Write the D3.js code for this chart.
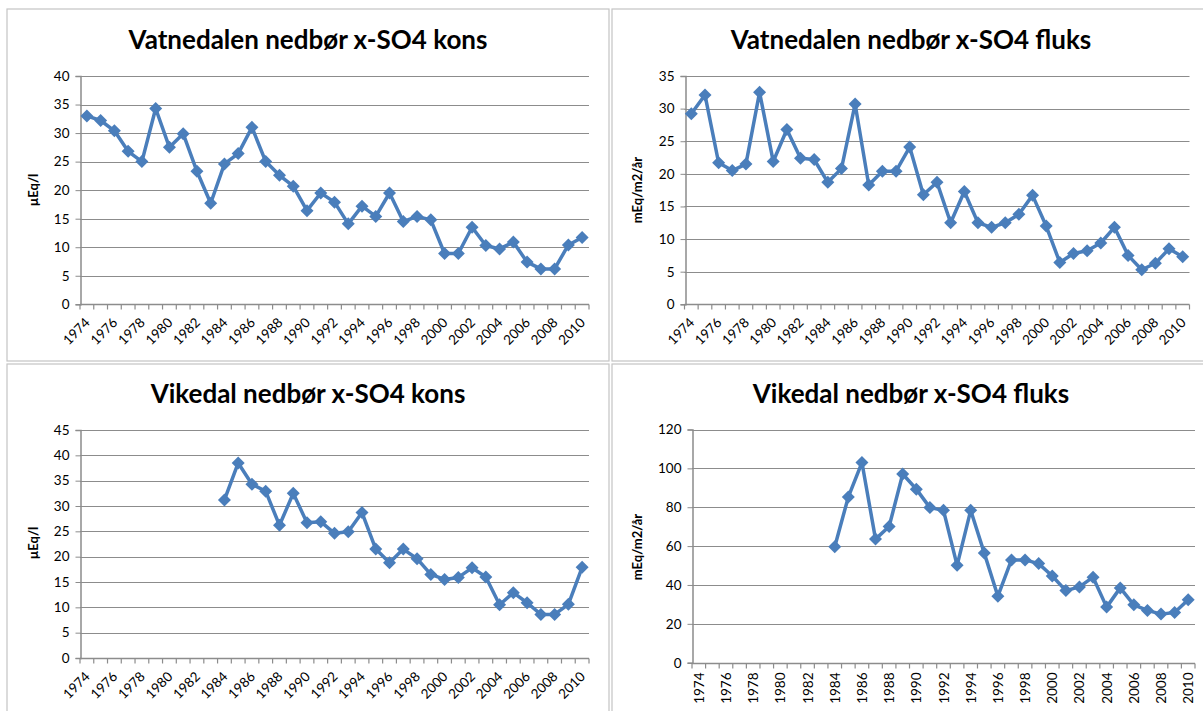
<!DOCTYPE html>
<html>
<head>
<meta charset="utf-8">
<title>Vatnedalen og Vikedal nedbør x-SO4</title>
<script src="https://cdn.jsdelivr.net/npm/d3@7"></script>
<style>
  body { margin: 0; background: #fff; }
  svg { display: block; font-family: Lato, "Open Sans", sans-serif; }
</style>
</head>
<body>
<script>
// categories
var years = [1974,1975,1976,1977,1978,1979,1980,1981,1982,1983,1984,1985,1986,1987,1988,1989,1990,
  1991,1992,1993,1994,1995,1996,1997,1998,1999,2000,2001,2002,2003,2004,2005,2006,2007,2008,2009,2010];

// Vatnedalen, konsentrasjon (µEq/l)
var vatKons = [33.0,32.2,30.4,26.8,25.0,34.3,27.5,29.9,23.3,17.7,24.6,26.4,31.0,25.0,22.6,20.7,16.4,
  19.5,17.9,14.1,17.2,15.4,19.5,14.5,15.4,14.8,8.9,8.9,13.5,10.3,9.7,10.9,7.4,6.2,6.2,10.4,11.7];

// Vatnedalen, fluks (mEq/m2/år)
var vatFluks = [29.2,32.1,21.7,20.5,21.5,32.5,21.9,26.8,22.4,22.2,18.7,20.8,30.7,18.3,20.4,20.4,24.1,
  16.8,18.7,12.5,17.3,12.5,11.8,12.5,13.8,16.7,12.0,6.4,7.8,8.2,9.4,11.8,7.5,5.3,6.3,8.5,7.3];

// Vikedal, konsentrasjon (µEq/l) - data fra 1984
var vikKons = [null,null,null,null,null,null,null,null,null,null,31.2,38.5,34.3,32.9,26.2,32.5,26.7,
  26.9,24.6,24.9,28.7,21.5,18.8,21.5,19.6,16.5,15.5,15.9,17.8,16.0,10.5,12.9,10.9,8.6,8.6,10.6,17.9];

// Vikedal, fluks (mEq/m2/år) - data fra 1984
var vikFluks = [null,null,null,null,null,null,null,null,null,null,59.7,85.3,103.0,63.6,70.1,97.1,89.3,
  79.8,78.4,50.1,78.4,56.4,34.2,52.9,52.9,51.0,44.6,37.1,39.0,44.0,28.6,38.5,29.8,26.9,25.0,25.8,32.4];

var titles = ["Vatnedalen nedbør x-SO4 kons", "Vatnedalen nedbør x-SO4 fluks",
              "Vikedal nedbør x-SO4 kons", "Vikedal nedbør x-SO4 fluks"];
var yLabels = ["µEq/l", "mEq/m2/år", "µEq/l", "mEq/m2/år"];
var yTicks = [
  [0,5,10,15,20,25,30,35,40],
  [0,5,10,15,20,25,30,35],
  [0,5,10,15,20,25,30,35,40,45],
  [0,20,40,60,80,100,120]
];

var W = 1203, H = 711;
var lineColor = "#4a7ebb";
var gridColor = "#8c8c8c";

var svg = d3.select("body").append("svg")
  .attr("width", W)
  .attr("height", H);

// panel layout: frame, plot area, title position, axis title position, label rotation
var panels = [
  {frame:[7,9,602,352],   plot:[80,76,589,304.3],      title:[308,49],  ylab:[38,190],  rot:-45, data:vatKons},
  {frame:[612,9,600,352], plot:[684.5,76,1189.5,304.3], title:[911,49], ylab:[642,190], rot:-45, data:vatFluks},
  {frame:[7,364,602,360], plot:[80,430,589,658],       title:[308,403], ylab:[38,543],  rot:-45, data:vikKons},
  {frame:[612,364,600,360], plot:[692,429.5,1195,662.7], title:[911,403], ylab:[642,547], rot:-90, data:vikFluks}
];

panels.forEach(function(p, i) {
  var g = svg.append("g");

  g.append("rect")
    .attr("x", p.frame[0]).attr("y", p.frame[1])
    .attr("width", p.frame[2]).attr("height", p.frame[3])
    .attr("fill", "#fff")
    .attr("stroke", "#c4c4c4")
    .attr("stroke-width", 1.2);

  var x0 = p.plot[0], y0 = p.plot[1], x1 = p.plot[2], y1 = p.plot[3];
  var ticks = yTicks[i];

  var xScale = d3.scaleBand().domain(years).range([x0, x1]).padding(0);
  var yScale = d3.scaleLinear().domain([0, ticks[ticks.length-1]]).range([y1, y0]);

  // grid lines
  g.selectAll(".grid").data(ticks.slice(1)).enter().append("line")
    .attr("x1", x0).attr("x2", x1)
    .attr("y1", d => Math.round(yScale(d)) + 0.5)
    .attr("y2", d => Math.round(yScale(d)) + 0.5)
    .attr("stroke", gridColor)
    .attr("stroke-width", 1);

  // y axis
  var yAxis = d3.axisLeft(yScale).tickValues(ticks).tickSize(5).tickPadding(6);
  var ya = g.append("g").attr("transform", "translate(" + (Math.round(x0) + 0.5) + ",0)").call(yAxis);
  ya.select(".domain").attr("stroke", gridColor).attr("stroke-width", 1.5);
  ya.selectAll(".tick line").attr("stroke", gridColor);
  ya.selectAll(".tick text").attr("font-size", 13.5).attr("fill", "#000")
    .attr("font-family", "Lato, sans-serif");

  // x axis: line plus ticks between categories
  var axisY = Math.round(y1) + 0.5;
  g.append("line")
    .attr("x1", x0).attr("x2", x1).attr("y1", axisY).attr("y2", axisY)
    .attr("stroke", gridColor).attr("stroke-width", 1.5);
  var bounds = years.map(d => xScale(d)).concat([x1]);
  g.selectAll(".xt").data(bounds).enter().append("line")
    .attr("x1", d => d).attr("x2", d => d)
    .attr("y1", axisY).attr("y2", axisY + 5)
    .attr("stroke", gridColor).attr("stroke-width", 1.2);

  var labYears = years.filter((d, k) => k % 2 === 0);
  g.selectAll(".xl").data(labYears).enter().append("text")
    .attr("transform", function(d) {
      var cx = xScale(d) + xScale.bandwidth() / 2;
      if (p.rot === -90) return "translate(" + (cx + 5) + "," + (axisY + 9) + ") rotate(-90)";
      return "translate(" + (cx + 4) + "," + (axisY + 19) + ") rotate(-45)";
    })
    .attr("text-anchor", "end")
    .attr("font-size", 13.5)
    .text(d => d);

  // title
  g.append("text")
    .attr("x", p.title[0]).attr("y", p.title[1])
    .attr("text-anchor", "middle")
    .attr("font-size", 26)
    .attr("font-weight", "bold")
    .text(titles[i]);

  // y axis title
  g.append("text")
    .attr("transform", "translate(" + p.ylab[0] + "," + p.ylab[1] + ") rotate(-90)")
    .attr("text-anchor", "middle")
    .attr("font-size", 13)
    .attr("font-weight", "bold")
    .text(yLabels[i]);

  // series line
  var pts = years.map((d, k) => ({year: d, v: p.data[k]}));
  var line = d3.line()
    .defined(d => d.v !== null)
    .x(d => xScale(d.year) + xScale.bandwidth() / 2)
    .y(d => yScale(d.v));

  g.append("path")
    .datum(pts)
    .attr("d", line)
    .attr("fill", "none")
    .attr("stroke", lineColor)
    .attr("stroke-width", 3.5)
    .attr("stroke-linejoin", "round");

  g.selectAll(".mk").data(pts.filter(d => d.v !== null)).enter().append("path")
    .attr("transform", d => "translate(" + (xScale(d.year) + xScale.bandwidth() / 2) + "," + yScale(d.v) + ")")
    .attr("d", "M0,-6.5L6.5,0L0,6.5L-6.5,0Z")
    .attr("fill", lineColor);
});
</script>
</body>
</html>
